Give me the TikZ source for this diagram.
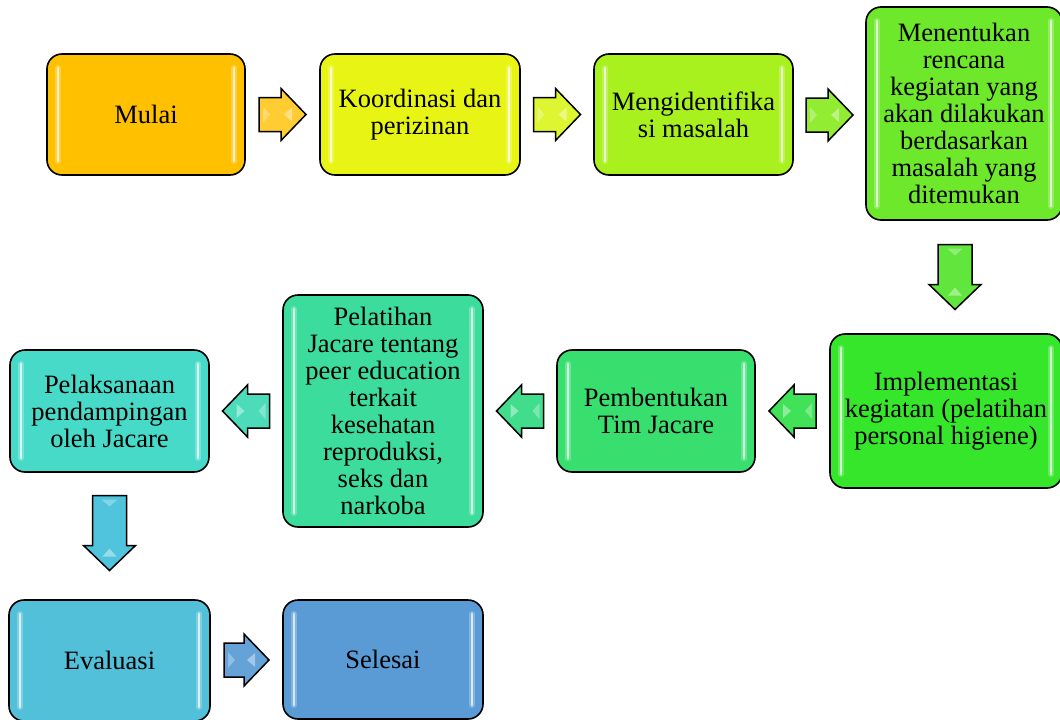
\documentclass[tikz,border=0pt]{standalone}
\usepackage{fontspec}
\setmainfont{Liberation Serif}
\usetikzlibrary{calc}
\definecolor{c1}{RGB}{255,192,0}
\definecolor{c2}{RGB}{232,245,20}
\definecolor{c3}{RGB}{168,240,30}
\definecolor{c4}{RGB}{110,232,42}
\definecolor{c5}{RGB}{54,230,42}
\definecolor{c6}{RGB}{56,222,110}
\definecolor{c7}{RGB}{60,220,156}
\definecolor{c8}{RGB}{72,218,200}
\definecolor{c9}{RGB}{82,192,216}
\definecolor{c10}{RGB}{90,155,214}
\definecolor{a1}{RGB}{255,204,50}
\definecolor{a2}{RGB}{222,245,50}
\definecolor{a3}{RGB}{145,236,50}
\definecolor{a4}{RGB}{96,230,60}
\definecolor{a5}{RGB}{66,226,88}
\definecolor{a6}{RGB}{66,221,140}
\definecolor{a7}{RGB}{76,220,186}
\definecolor{a8}{RGB}{80,196,220}
\definecolor{a9}{RGB}{100,162,216}
\tikzset{
  glint/.style={white, line cap=round},
  flowbox/.style={draw=black, line width=1.6pt, rounded corners=15pt, align=center,
    font=\fontsize{26.5}{27}\selectfont, text=black, inner sep=2pt,
    path picture={
      \foreach \w/\o in {6pt/0.25, 2.8pt/0.7}{
        \draw[glint, opacity=\o, line width=\w]
          ([xshift=11pt,yshift=-14pt]path picture bounding box.north west) --
          ([xshift=11pt,yshift=14pt]path picture bounding box.south west);
        \draw[glint, opacity=\o, line width=\w]
          ([xshift=-11pt,yshift=-14pt]path picture bounding box.north east) --
          ([xshift=-11pt,yshift=14pt]path picture bounding box.south east);
      }
    }},
  arrowshape/.style={draw=black, line width=1.5pt, line join=miter}
}
% #1 colour, #2 centre, #3 rotation, #4 total length
\newcommand\blkarrow[4]{%
  \begin{scope}[shift={(#2)}, rotate=#3]
    \draw[arrowshape, fill=#1] ({-#4/2},-17) -- ({#4/2-25},-17) -- ({#4/2-25},-26) --
      ({#4/2},0) -- ({#4/2-25},26) -- ({#4/2-25},17) -- ({-#4/2},17) -- cycle;
    \fill[white, opacity=0.4] ({#4/2-14},-7) -- ({#4/2-22},0) -- ({#4/2-14},7) -- cycle;
    \fill[white, opacity=0.3] ({-#4/2+4},-8) -- ({-#4/2+11},0) -- ({-#4/2+4},8) -- cycle;
  \end{scope}}
\begin{document}
\begin{tikzpicture}[x=1pt, y=-1pt]
\useasboundingbox (0,0) rectangle (1060,720);
\node[flowbox, fill=c1, minimum width=198pt, minimum height=121pt] (m1) at (146,114.5) {Mulai};
\node[flowbox, fill=c2, minimum width=200pt, minimum height=121pt] (m2) at (420,114.5) {Koordinasi dan\\perizinan};
\node[flowbox, fill=c3, minimum width=199pt, minimum height=121pt] (m3) at (693.5,114.5) {Mengidentifika\\si masalah};
\node[flowbox, fill=c4, minimum width=196pt, minimum height=213pt] (m4) at (964,113.5) {Menentukan\\rencana\\kegiatan yang\\akan dilakukan\\berdasarkan\\masalah yang\\ditemukan};
\node[flowbox, fill=c5, minimum width=232pt, minimum height=154pt] (m5) at (946,411) {Implementasi\\kegiatan (pelatihan\\personal higiene)};
\node[flowbox, fill=c6, minimum width=198pt, minimum height=122pt] (m6) at (656,411) {Pembentukan\\Tim Jacare};
\node[flowbox, fill=c7, minimum width=200pt, minimum height=232pt] (m7) at (383,411) {Pelatihan\\Jacare tentang\\peer education\\terkait\\kesehatan\\reproduksi,\\seks dan\\narkoba};
\node[flowbox, fill=c8, minimum width=199pt, minimum height=122pt] (m8) at (109.5,411) {Pelaksanaan\\pendampingan\\oleh Jacare};
\node[flowbox, fill=c9, minimum width=201pt, minimum height=121pt] (m9) at (109.5,660.5) {Evaluasi};
\node[flowbox, fill=c10, minimum width=200pt, minimum height=119pt] (m10) at (383,659.5) {Selesai};

\coordinate (p1) at ($(m1.east)!0.5!(m2.west)$);
\coordinate (p2) at ($(m2.east)!0.5!(m3.west)$);
\coordinate (p3) at ($(m3.east)!0.5!(m4.west)+(0,1)$);
\coordinate (p4) at ($(m4.south)!0.5!(m5.north)$);
\coordinate (p5) at ($(m5.west)!0.5!(m6.east)$);
\coordinate (p6) at ($(m6.west)!0.5!(m7.east)$);
\coordinate (p7) at ($(m7.west)!0.5!(m8.east)$);
\coordinate (p8) at ($(m8.south)!0.5!(m9.north)+(0,-3)$);
\coordinate (p9) at ($(m9.east)!0.5!(m10.west)$);

\blkarrow{a1}{p1}{0}{47}
\blkarrow{a2}{p2}{0}{47}
\blkarrow{a3}{p3}{0}{47}
\blkarrow{a4}{p4}{-90}{65}
\blkarrow{a5}{p5}{180}{47}
\blkarrow{a6}{p6}{180}{47}
\blkarrow{a7}{p7}{180}{47}
\blkarrow{a8}{p8}{-90}{75}
\blkarrow{a9}{p9}{0}{45}
\end{tikzpicture}
\end{document}
